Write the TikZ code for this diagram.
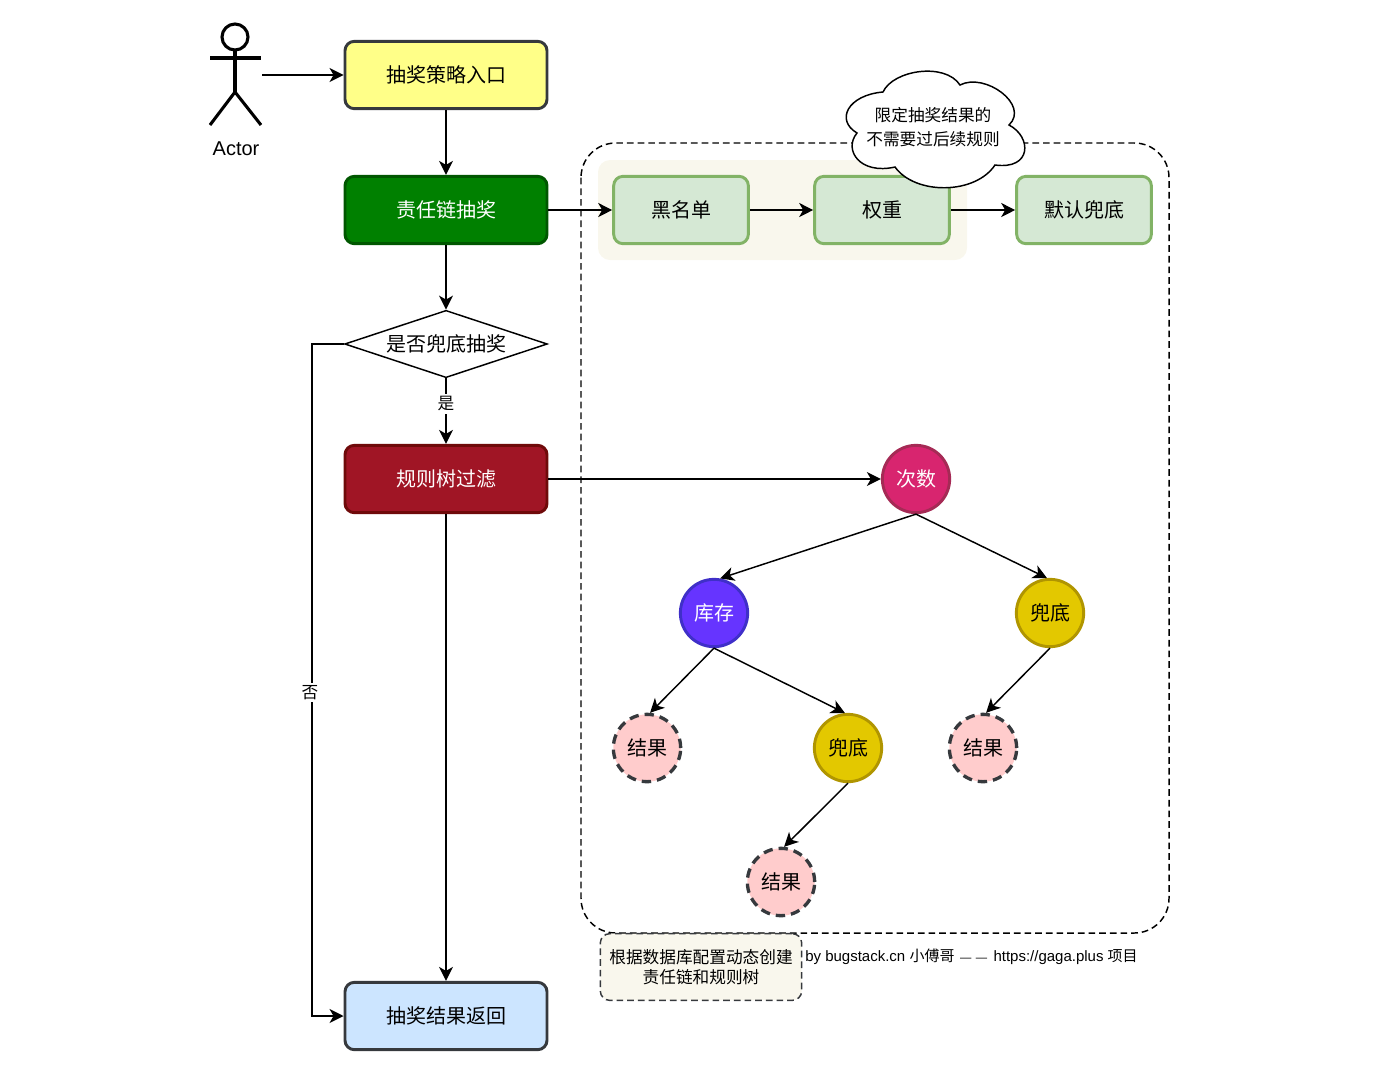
\documentclass[tikz,border=0pt]{standalone}
\usepackage{fontspec}
\setmainfont{Liberation Sans}
\newfontfamily\cjk{Noto Sans CJK SC}
\usetikzlibrary{arrows.meta,shapes.geometric}
\definecolor{boxline}{HTML}{36393D}
\definecolor{notefill}{HTML}{F9F7ED}
\definecolor{rulegreen}{HTML}{82B366}
\definecolor{rulefill}{HTML}{D5E8D4}
\definecolor{endfill}{HTML}{FFCCCC}
\definecolor{floorline}{HTML}{B09500}
\definecolor{floorfill}{HTML}{E3C800}
\definecolor{entryfill}{HTML}{FFFF88}
\definecolor{chainfill}{HTML}{008000}
\definecolor{chainline}{HTML}{005700}
\definecolor{treefill}{HTML}{A01525}
\definecolor{treeline}{HTML}{6F0A0A}
\definecolor{resultfill}{HTML}{CCE5FF}
\definecolor{countfill}{HTML}{D8256F}
\definecolor{countline}{HTML}{A52A55}
\definecolor{stockfill}{HTML}{6634FF}
\definecolor{stockline}{HTML}{3F2FC8}
\tikzset{
  >={Stealth[length=10.5pt,width=10.5pt,inset=3pt]},
  flow/.style={draw=boxline, line width=2.2pt, rounded corners=7pt, minimum width=151.5pt, minimum height=50.5pt, inner sep=0pt, font=\cjk\fontsize{15pt}{18pt}\selectfont},
  rulebox/.style={draw=rulegreen, fill=rulefill, line width=2.2pt, rounded corners=7pt, minimum width=101pt, minimum height=50.5pt, inner sep=0pt, font=\cjk\fontsize{15pt}{18pt}\selectfont},
  treenode/.style={circle, line width=2.2pt, minimum size=50.5pt, inner sep=0pt, font=\cjk\fontsize{15pt}{18pt}\selectfont},
  endnode/.style={treenode, draw=boxline, fill=endfill, line width=2.5pt, dash pattern=on 7pt off 4.5pt},
  floor/.style={treenode, draw=floorline, fill=floorfill},
  edgetext/.style={fill=white, inner sep=2pt, font=\cjk\fontsize{12.5pt}{15pt}\selectfont},
  link/.style={line width=1.1pt, ->}
}
\begin{document}
\begin{tikzpicture}[x=0.75pt, y=-0.75pt]
\useasboundingbox (0, 0) rectangle (1391, 1072);
% frames behind the nodes
\draw[line width=1.1pt, dash pattern=on 5pt off 3pt, rounded corners=26pt] (581, 143) rectangle (1169, 933);
\fill[notefill, rounded corners=9pt] (598, 160) rectangle (967, 260);
% actor
\draw[line width=2.3pt] (235, 37) circle (13);
\draw[line width=2.3pt] (235, 50) -- (235, 92);
\draw[line width=2.3pt] (210, 58) -- (261, 58);
\draw[line width=2.3pt] (210, 125) -- (235, 92) -- (261, 125);
\node (actorname) at (236, 149) {\fontsize{15pt}{18pt}\selectfont Actor};
\coordinate (actor) at (262, 75);
% main flow
\node[flow, fill=entryfill] (entry) at (446, 75) {抽奖策略入口};
\node[flow, draw=chainline, fill=chainfill, text=white] (chain) at (446, 210) {责任链抽奖};
\node[diamond, draw, line width=1.1pt, aspect=3, minimum width=152pt, minimum height=50.5pt, inner sep=0pt, font=\cjk\fontsize{15pt}{18pt}\selectfont] (judge) at (446, 344) {是否兜底抽奖};
\node[flow, draw=treeline, fill=treefill, text=white] (filter) at (446, 479) {规则树过滤};
\node[flow, fill=resultfill] (result) at (446, 1016) {抽奖结果返回};
% chain rules
\node[rulebox] (black) at (681, 210) {黑名单};
\node[rulebox] (weight) at (882, 210) {权重};
\node[rulebox] (default) at (1084, 210) {默认兜底};
% rule tree
\node[treenode, draw=countline, fill=countfill, text=white] (count) at (916, 479) {次数};
\node[treenode, draw=stockline, fill=stockfill, text=white] (stock) at (714, 613) {库存};
\node[floor] (floorright) at (1050, 613) {兜底};
\node[endnode] (endleft) at (647, 748) {结果};
\node[floor] (floormid) at (848, 748) {兜底};
\node[endnode] (endright) at (983, 748) {结果};
\node[endnode] (endlow) at (781, 882) {结果};
% connectors
\draw[link] (actor) -- (entry);
\draw[link] (entry) -- (chain);
\draw[link] (chain) -- (judge);
\draw[link] (judge) -- node[edgetext, pos=.39] (yes) {是} (filter);
\coordinate (rail) at (312, 680);
\draw[link] (judge.west) -| (rail) |- (result.west);
\node[edgetext] (no) at (310, 692.5) {否};
\draw[link] (filter) -- (result);
\draw[link] (chain) -- (black);
\draw[link] (black) -- (weight);
\draw[link] (weight) -- (default);
\draw[link] (filter) -- (count);
\draw[link] (count.south) -- (stock.80);
\draw[link] (count.south) -- (floorright.95);
\draw[link] (stock.south) -- (endleft.85);
\draw[link] (stock.south) -- (floormid.95);
\draw[link] (floorright.south) -- (endright.85);
\draw[link] (floormid.south) -- (endlow.85);
% cloud
\draw[line width=1.1pt, fill=white] (883, 92) .. controls (893, 70) and (945, 62) .. (960, 85)
  .. controls (985, 72) and (1030, 105) .. (1009, 125)
  .. controls (1032, 137) and (1032, 170) .. (995, 165)
  .. controls (975, 195) and (915, 195) .. (895, 167)
  .. controls (860, 175) and (843, 150) .. (857, 133)
  .. controls (835, 120) and (848, 95) .. (883, 92) -- cycle;
\node[align=center, font=\cjk\fontsize{12.5pt}{18pt}\selectfont] (cloudtext) at (933, 127) {限定抽奖结果的\\不需要过后续规则};
% notes
\node[draw=boxline, fill=notefill, line width=1.1pt, dash pattern=on 5pt off 3pt, rounded corners=7pt, minimum width=151pt, minimum height=50pt, inner sep=0pt, align=center, font=\cjk\fontsize{12.5pt}{15pt}\selectfont] (note) at (701, 967) {根据数据库配置动态创建\\责任链和规则树};
\node[anchor=west, inner sep=0pt, font=\fontsize{11.25pt}{15pt}\selectfont] (credit) at (805, 957) {by bugstack.cn {\cjk 小傅哥} \kern1pt{\fontsize{8.5pt}{15pt}\selectfont —\kern3.5pt—}\kern1.5pt{} https://gaga.plus {\cjk 项目}};
\end{tikzpicture}
\end{document}
